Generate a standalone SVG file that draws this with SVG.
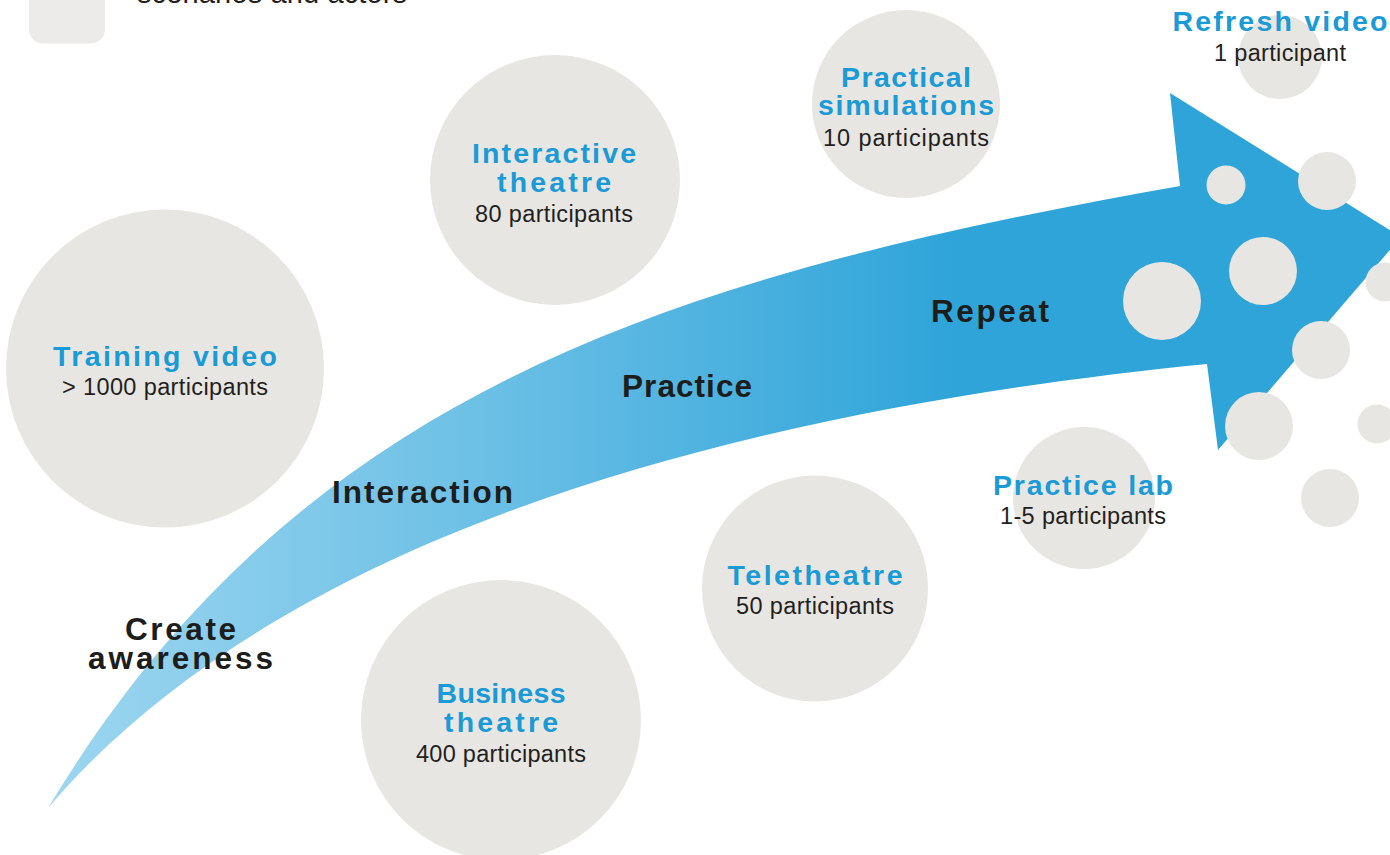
<svg xmlns="http://www.w3.org/2000/svg" width="1390" height="855" viewBox="0 0 1390 855">
<style>
.bub{fill:#e8e6e2}
.t{font-family:"Liberation Sans",Arial,sans-serif;font-weight:bold;font-size:28.5px;fill:#1a9ad6;text-anchor:middle}
.p{font-family:"Liberation Sans",Arial,sans-serif;font-size:23.5px;fill:#231f20;text-anchor:middle}
.s{font-family:"Liberation Sans",Arial,sans-serif;font-weight:bold;font-size:31.5px;fill:#1d1d1b;text-anchor:middle}
</style>
<defs>
<linearGradient id="ag" gradientUnits="userSpaceOnUse" x1="48" y1="0" x2="960" y2="0">
<stop offset="0" stop-color="#9dd6f0"/>
<stop offset="0.45" stop-color="#6fc1e6"/>
<stop offset="1" stop-color="#2ea4d9"/>
</linearGradient>
</defs>
<rect width="1390" height="855" fill="#ffffff"/>
<g id="legend">
<rect x="29" y="-40" width="76" height="83.5" rx="14" fill="#ecebe9"/>
<text x="137" y="3" font-family="Liberation Sans, Arial, sans-serif" font-size="29" fill="#231f20" textLength="270" lengthAdjust="spacing">scenarios and actors</text>
</g>
<g id="node-training-video">
<circle class="bub" cx="165" cy="368.5" r="159"/>
<text class="t" x="165" y="366" textLength="224" lengthAdjust="spacing">Training video</text>
<text class="p" x="165" y="395" textLength="206" lengthAdjust="spacing">&gt; 1000 participants</text>
</g>
<g id="node-interactive-theatre">
<circle class="bub" cx="555" cy="180" r="125"/>
<text class="t" x="554" y="163" textLength="164" lengthAdjust="spacing">Interactive</text>
<text class="t" x="554" y="192" textLength="114" lengthAdjust="spacing">theatre</text>
<text class="p" x="554" y="222" textLength="158" lengthAdjust="spacing">80 participants</text>
</g>
<g id="node-practical-simulations">
<circle class="bub" cx="906" cy="104" r="94"/>
<text class="t" x="906" y="87" textLength="130" lengthAdjust="spacing">Practical</text>
<text class="t" x="906" y="115" textLength="176" lengthAdjust="spacing">simulations</text>
<text class="p" x="906" y="146" textLength="166" lengthAdjust="spacing">10  participants</text>
</g>
<g id="node-refresh-video">
<circle class="bub" cx="1280" cy="57" r="42"/>
<text class="t" x="1280" y="31" textLength="215" lengthAdjust="spacing">Refresh video</text>
<text class="p" x="1280" y="61" textLength="132" lengthAdjust="spacing">1 participant</text>
</g>
<g id="node-teletheatre">
<circle class="bub" cx="815" cy="588.5" r="113"/>
<text class="t" x="815" y="585" textLength="175" lengthAdjust="spacing">Teletheatre</text>
<text class="p" x="815" y="614" textLength="158" lengthAdjust="spacing">50 participants</text>
</g>
<g id="node-business-theatre">
<circle class="bub" cx="501" cy="720" r="140"/>
<text class="t" x="501" y="703" textLength="129" lengthAdjust="spacing">Business</text>
<text class="t" x="501" y="732" textLength="114" lengthAdjust="spacing">theatre</text>
<text class="p" x="501" y="762" textLength="170" lengthAdjust="spacing">400 participants</text>
</g>
<g id="node-practice-lab">
<circle class="bub" cx="1084" cy="498" r="71"/>
<text class="t" x="1083" y="495" textLength="180" lengthAdjust="spacing">Practice lab</text>
<text class="p" x="1083" y="524" textLength="166" lengthAdjust="spacing">1-5 participants</text>
</g>
<g id="connectors">
<path d="M48,808 C296,396 660,278 1180,186 L1170,93 L1401,237 L1218,450 L1207,364 C827,402 308,503 48,808 Z" fill="url(#ag)"/>
<text class="s" x="180.5" y="640" textLength="111" lengthAdjust="spacing">Create</text>
<text class="s" x="180.5" y="669" textLength="185" lengthAdjust="spacing">awareness</text>
<text class="s" x="422.5" y="503" textLength="181" lengthAdjust="spacing">Interaction</text>
<text class="s" x="687" y="397" textLength="130" lengthAdjust="spacing">Practice</text>
<text class="s" x="990" y="322" textLength="118" lengthAdjust="spacing">Repeat</text>
</g>
<g id="dots">
<circle class="bub" cx="1226" cy="185" r="19.5"/>
<circle class="bub" cx="1327" cy="181" r="29"/>
<circle class="bub" cx="1263" cy="271" r="34"/>
<circle class="bub" cx="1162" cy="301" r="39"/>
<circle class="bub" cx="1385" cy="282" r="19.5"/>
<circle class="bub" cx="1321" cy="350" r="29"/>
<circle class="bub" cx="1259" cy="426" r="34"/>
<circle class="bub" cx="1377" cy="424" r="19.5"/>
<circle class="bub" cx="1330" cy="498" r="29"/>
</g>
</svg>
